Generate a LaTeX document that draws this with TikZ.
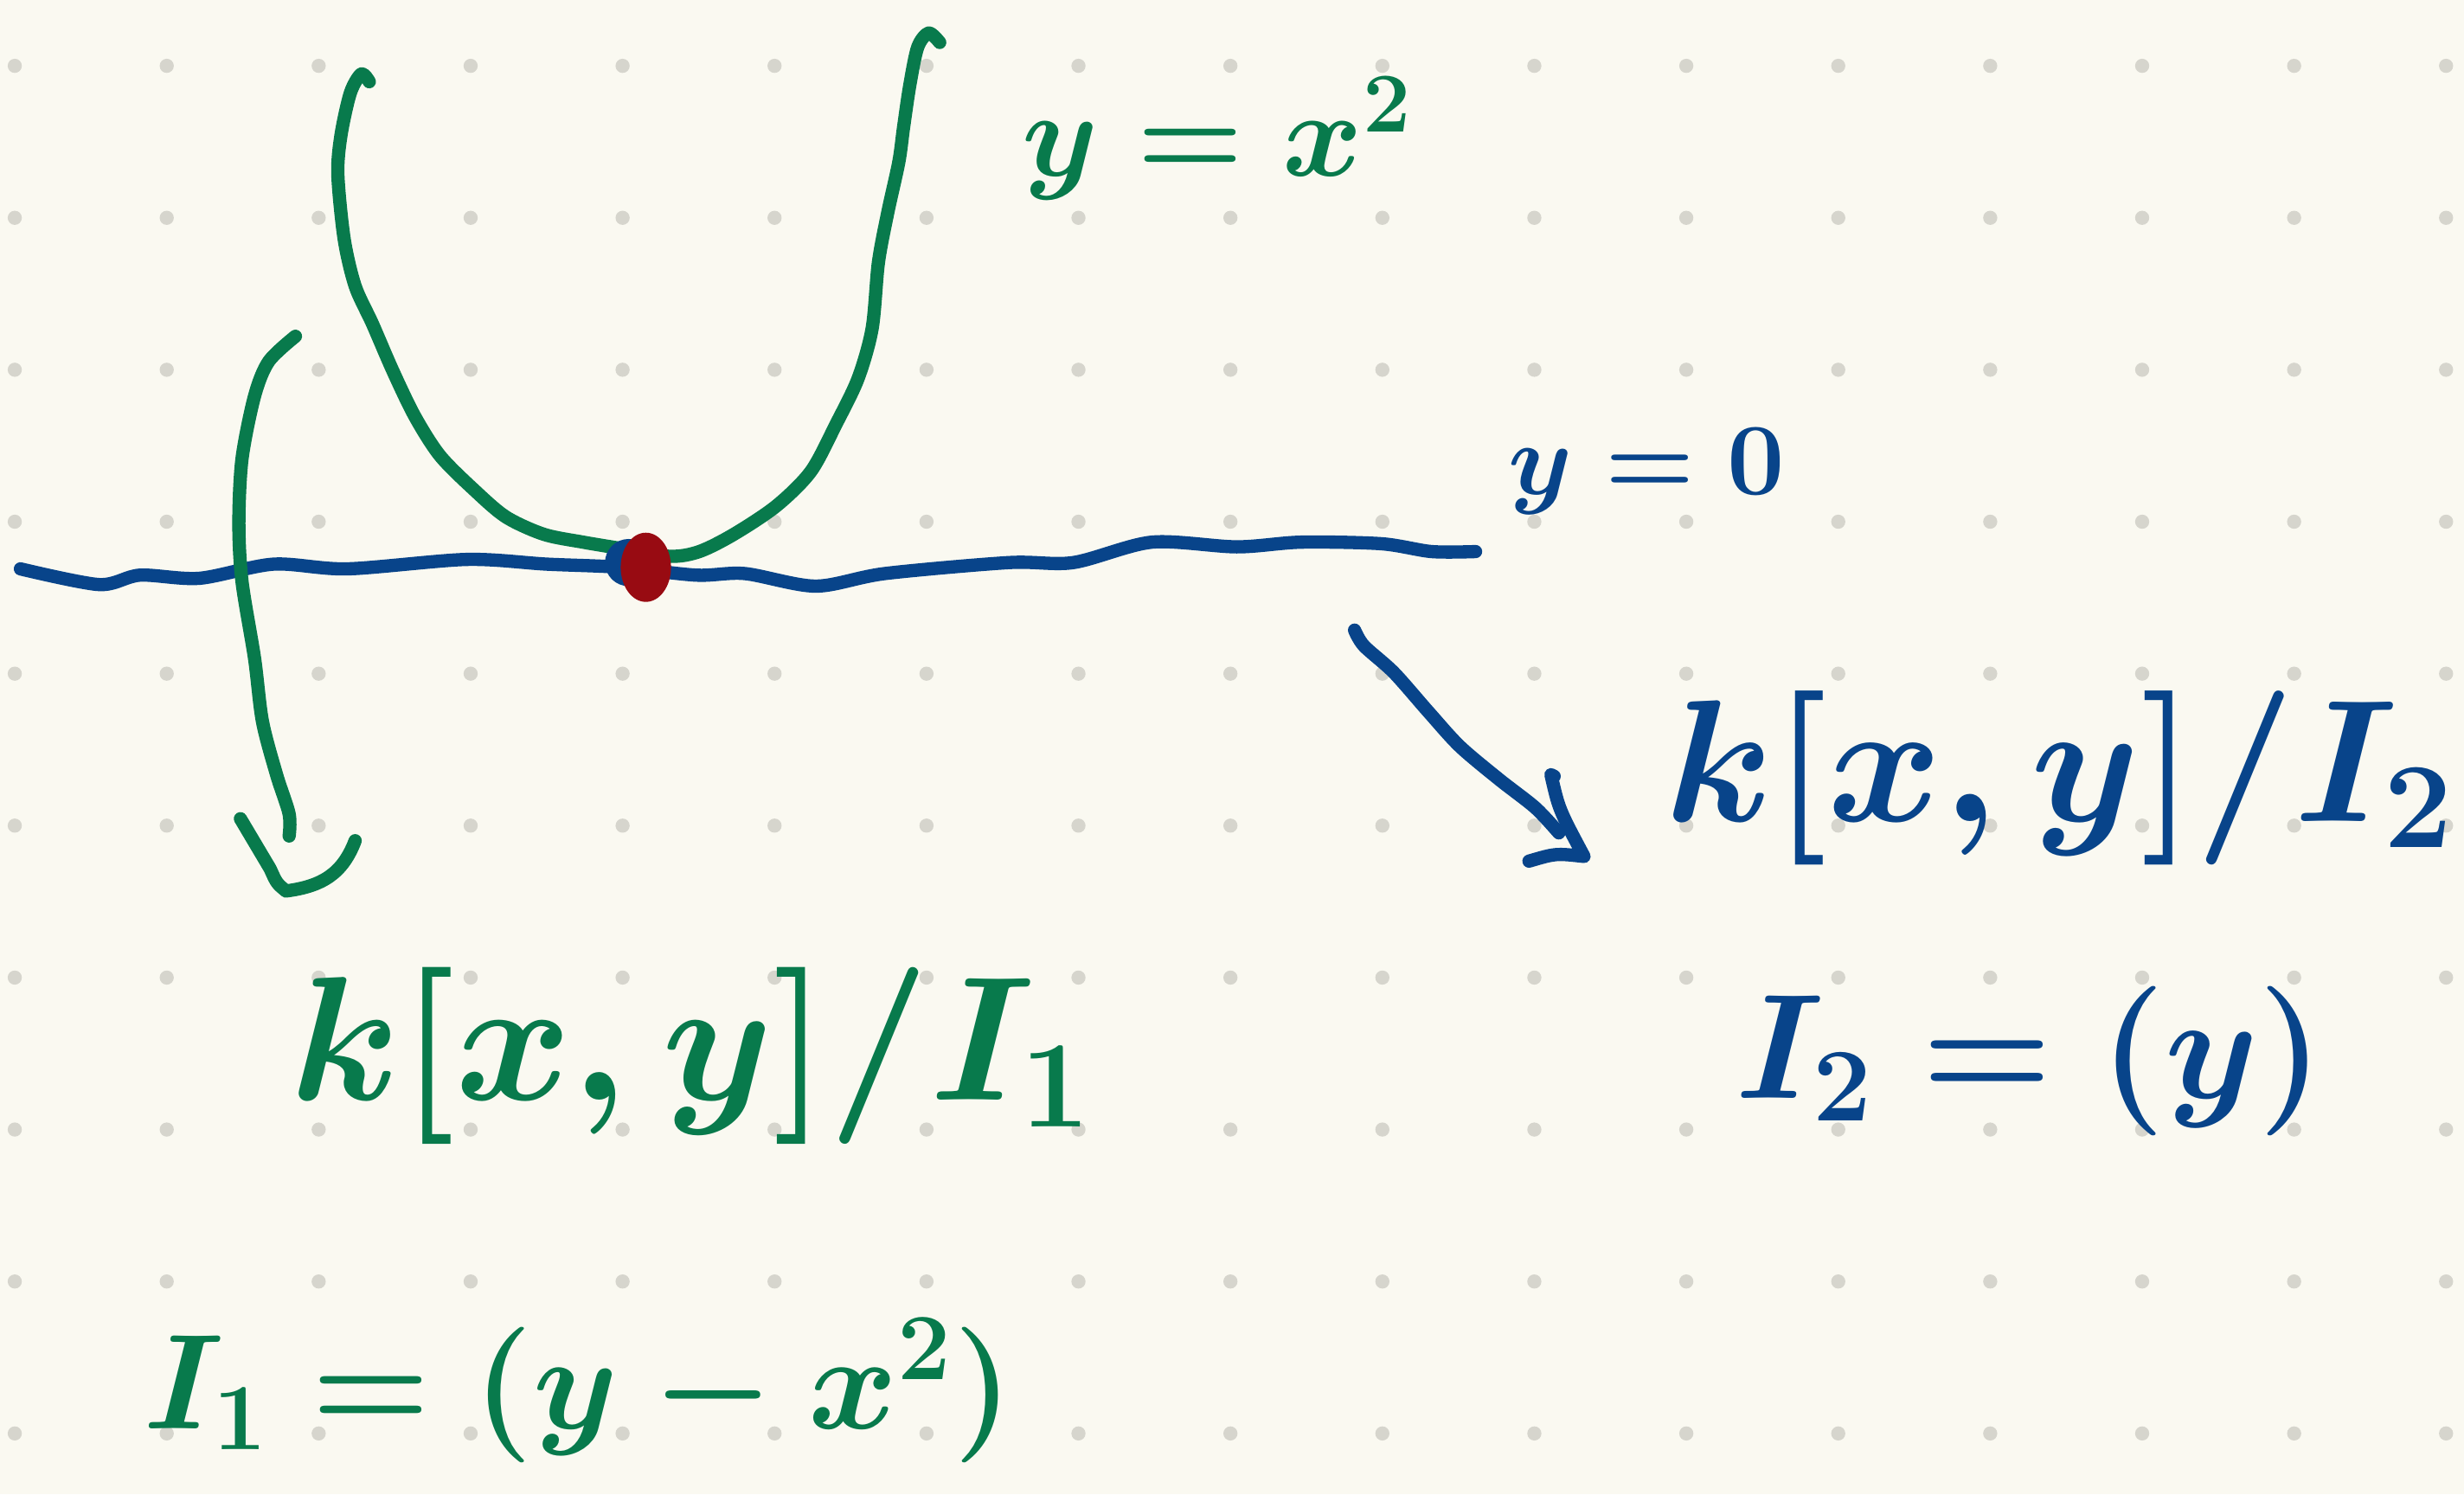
\RequirePackage{fix-cm}
\documentclass[tikz,border=0pt]{standalone}
\definecolor{paper}{HTML}{FAF9F1}
\definecolor{gridgray}{HTML}{D6D5CD}
\definecolor{inkgreen}{HTML}{087A4C}
\definecolor{inkblue}{HTML}{08448A}
\definecolor{inkred}{HTML}{980B12}
\begin{document}
\begin{tikzpicture}[x=0.01cm,y=-0.01cm,
    pen/.style={line width=2.4pt,line cap=round,line join=round},
    greenpen/.style={pen,draw=inkgreen},
    bluepen/.style={pen,draw=inkblue},
    greenlabel/.style={text=inkgreen,inner sep=0pt},
    bluelabel/.style={text=inkblue,inner sep=0pt}]
  \useasboundingbox (0,0) rectangle (1568,951);
  \fill[paper] (0,0) rectangle (1568,951);
  % dotted paper
  \foreach \i in {0,...,16}
    \foreach \j in {0,...,9}
      \fill[gridgray] ({9.4+96.7*\i},{41.9+96.7*\j}) circle[radius=0.045cm];

  % the line y=0
  \draw[bluepen] plot[smooth] coordinates {(13,362) (63,372) (89,366) (127,368)
    (174,359) (221,362) (297,356) (348,359) (395,361) (443,366) (474,365)
    (519,373) (563,365) (642,358) (683,358) (733,345) (787,348) (828,345)
    (879,346) (911,351) (939,351)};

  % the parabola y=x^2
  \draw[greenpen] plot[smooth] coordinates {(235,52) (230,47) (223,59) (217,86)
    (215,111) (219,152) (226,182) (237,206) (250,236) (264,265) (280,290)
    (302,312) (322,329) (346,340) (371,345) (395,349) (426,354) (445,351)
    (467,340) (494,322) (516,300) (532,270) (546,241) (555,209) (559,167)
    (565,135) (572,103) (575,81) (579,54) (584,30) (591,21) (598,27)};

  % the point where they meet
  \fill[inkblue] (400,358) circle[radius=0.15cm];
  \fill[inkred] (411,361) ellipse[x radius=0.16cm,y radius=0.22cm];

  % labels
  \node[greenlabel,font=\fontsize{22}{26}\selectfont\boldmath] (parab) at (775,88) {$y=x^2$};
  \node[bluelabel,font=\fontsize{18.5}{22}\selectfont\boldmath] (axis) at (1048,300) {$y=0$};
  \node[greenlabel,font=\fontsize{32}{36}\selectfont\boldmath] (ringone) at (440,672) {$k[x,y]/I_1$};
  \node[greenlabel,font=\fontsize{24.5}{28}\selectfont\boldmath] (idealone) at (368,885) {$I_1=(y-x^2)$};
  \node[bluelabel,font=\fontsize{31.5}{36}\selectfont\boldmath] (ringtwo) at (1311,495) {$k[x,y]/I_2$};
  \node[bluelabel,font=\fontsize{27}{31}\selectfont\boldmath] (idealtwo) at (1292,675) {$I_2=(y)$};

  % arrows down to the quotient rings
  \coordinate (gstart) at (188,214);
  \coordinate (gtip) at (182,567);
  \draw[greenpen] plot[smooth] coordinates {(gstart) (171,230) (162,252) (154,292)
    (152,333) (154,370) (162,419) (167,459) (176,493) (184,518) (184,532)};
  \draw[greenpen] (153,521) -- (172,553) .. controls (176,562) .. (gtip)
    .. controls (205,564) and (218,556) .. (226,535);
  \coordinate (bstart) at (862,401);
  \coordinate (btip) at (1008,545);
  \draw[bluepen] plot[smooth] coordinates {(bstart) (868,411) (887,428) (909,453)
    (929,475) (954,496) (977,514) (992,530)};
  \draw[bluepen] (989,494) -- (987,493) .. controls (992,515) .. (btip)
    .. controls (990,543) .. (973,548);
\end{tikzpicture}
\end{document}
